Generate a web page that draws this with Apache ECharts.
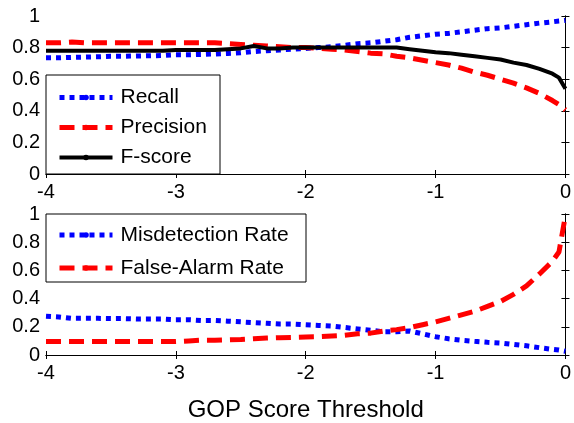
<!DOCTYPE html>
<html>
<head>
<meta charset="utf-8">
<script src="https://cdn.jsdelivr.net/npm/echarts@6/dist/echarts.min.js"></script>
<style>
  html, body { margin: 0; padding: 0; background: #fff; }
  #chart { width: 574px; height: 423px; }
</style>
</head>
<body>
<div id="chart"></div>
<script>
// GOP score thresholds (x values shared by every curve)
const thresholds = [-4.0, -3.9, -3.8, -3.7, -3.6, -3.5, -3.4, -3.3, -3.2, -3.1,
                    -3.0, -2.9, -2.8, -2.7, -2.6, -2.5, -2.4, -2.3, -2.2, -2.1,
                    -2.0, -1.9, -1.8, -1.7, -1.6, -1.5, -1.4, -1.3, -1.2, -1.1,
                    -1.0, -0.9, -0.8, -0.7, -0.6, -0.5, -0.4, -0.3, -0.2, -0.1,
                    -0.05, 0];

// Upper panel
const recall = [0.735, 0.735, 0.738, 0.74, 0.742, 0.745, 0.745, 0.747, 0.748, 0.75,
                0.755, 0.755, 0.757, 0.76, 0.763, 0.767, 0.775, 0.78, 0.785, 0.79,
                0.795, 0.80, 0.805, 0.815, 0.825, 0.83, 0.84, 0.85, 0.865, 0.875,
                0.885, 0.89, 0.90, 0.91, 0.92, 0.925, 0.935, 0.945, 0.955, 0.963,
                0.968, 0.972];
const precision = [0.83, 0.83, 0.835, 0.83, 0.83, 0.83, 0.83, 0.83, 0.83, 0.83,
                   0.83, 0.83, 0.83, 0.83, 0.825, 0.82, 0.815, 0.81, 0.805, 0.80,
                   0.80, 0.795, 0.79, 0.785, 0.775, 0.765, 0.76, 0.745, 0.735, 0.72,
                   0.705, 0.69, 0.67, 0.645, 0.625, 0.60, 0.575, 0.545, 0.51, 0.465,
                   0.44, 0.405];
const fscore = [0.78, 0.78, 0.78, 0.78, 0.78, 0.78, 0.78, 0.78, 0.78, 0.78,
                0.785, 0.785, 0.785, 0.785, 0.79, 0.795, 0.81, 0.795, 0.795, 0.80,
                0.80, 0.80, 0.80, 0.80, 0.80, 0.80, 0.80, 0.80, 0.79, 0.78,
                0.77, 0.765, 0.755, 0.745, 0.735, 0.725, 0.705, 0.69, 0.665, 0.635,
                0.61, 0.54];

// Lower panel
const misdetection = [0.275, 0.27, 0.26, 0.26, 0.26, 0.258, 0.258, 0.255, 0.255, 0.255,
                      0.25, 0.25, 0.245, 0.245, 0.24, 0.235, 0.23, 0.225, 0.22, 0.22,
                      0.215, 0.21, 0.205, 0.195, 0.185, 0.175, 0.165, 0.165, 0.17, 0.15,
                      0.13, 0.115, 0.105, 0.097, 0.09, 0.085, 0.075, 0.065, 0.052, 0.04,
                      0.035, 0.027];
const falseAlarm = [0.095, 0.095, 0.095, 0.095, 0.095, 0.095, 0.095, 0.095, 0.095, 0.095,
                    0.095, 0.10, 0.105, 0.105, 0.107, 0.11, 0.115, 0.12, 0.123, 0.125,
                    0.128, 0.13, 0.135, 0.14, 0.15, 0.155, 0.17, 0.18, 0.195, 0.215,
                    0.235, 0.26, 0.285, 0.31, 0.345, 0.38, 0.43, 0.49, 0.575, 0.665,
                    0.73, 0.99];

const xTicks = [-4, -3, -2, -1, 0];
const yTicks = [0, 0.2, 0.4, 0.6, 0.8, 1];

const FONT = '"Liberation Sans", Arial, Helvetica, sans-serif';
const pairs = (ys) => thresholds.map((x, i) => [x, ys[i]]);

const grids = [
  { left: 46, right: 6, top: 16, height: 158 },
  { left: 46, right: 6, top: 214, height: 157 }
];

function xAxes(gridIndex, withName) {
  const base = {
    type: 'value', gridIndex: gridIndex,
    min: xTicks[0], max: xTicks[xTicks.length - 1], interval: 1,
    axisLine: { show: true, lineStyle: { color: '#000', width: 1 } },
    axisTick: { show: true, inside: true, length: 4, lineStyle: { color: '#000' } },
    splitLine: { show: false }
  };
  const bottom = Object.assign({}, base, {
    position: 'bottom',
    axisLabel: { color: '#000', fontSize: 20, fontFamily: FONT, margin: 8 }
  });
  if (withName) {
    Object.assign(bottom, {
      name: 'GOP Score Threshold', nameLocation: 'middle', nameGap: 43,
      nameTextStyle: { color: '#000', fontSize: 24, fontFamily: FONT }
    });
  }
  const top = Object.assign({}, base, { position: 'top', axisLabel: { show: false } });
  return [bottom, top];
}

function yAxes(gridIndex) {
  const base = {
    type: 'value', gridIndex: gridIndex,
    min: yTicks[0], max: yTicks[yTicks.length - 1], interval: 0.2,
    axisLine: { show: true, lineStyle: { color: '#000', width: 1 } },
    axisTick: { show: true, inside: true, length: 4, lineStyle: { color: '#000' } },
    splitLine: { show: false }
  };
  return [
    Object.assign({}, base, {
      position: 'left',
      axisLabel: { color: '#000', fontSize: 20, fontFamily: FONT, margin: 6 }
    }),
    Object.assign({}, base, { position: 'right', axisLabel: { show: false } })
  ];
}

function lineSeries(name, ys, color, type, width, xi, yi) {
  return {
    name: name, type: 'line', data: pairs(ys),
    xAxisIndex: xi, yAxisIndex: yi,
    showSymbol: false, symbol: 'circle', symbolSize: 0,
    animation: false,
    lineStyle: { color: color, width: width, type: type, cap: 'butt' },
    itemStyle: { color: color }
  };
}

const chart = echarts.init(document.getElementById('chart'), null, { renderer: 'canvas' });
chart.setOption({
  animation: false,
  backgroundColor: '#fff',
  grid: grids,
  xAxis: [...xAxes(0, false), ...xAxes(1, true)],
  yAxis: [...yAxes(0), ...yAxes(1)],
  legend: [
    {
      data: [
        { name: 'Recall', lineStyle: { width: 5, type: [5, 5] } },
        { name: 'Precision', lineStyle: { width: 5, type: [15, 8] } },
        { name: 'F-score', lineStyle: { width: 4, type: 'solid' } }
      ],
      orient: 'vertical', left: 57, top: 82.5, padding: 0,
      itemWidth: 53, itemHeight: 7, itemGap: 0,
      selectedMode: false,
      textStyle: { color: '#000', fontSize: 21, fontFamily: FONT, lineHeight: 30, padding: [0, 0, 0, 3] }
    },
    {
      data: [
        { name: 'Misdetection Rate', lineStyle: { width: 5, type: [5, 5] } },
        { name: 'False-Alarm Rate', lineStyle: { width: 5, type: [15, 8] } }
      ],
      orient: 'vertical', left: 57, top: 218.5, padding: 0,
      itemWidth: 53, itemHeight: 7, itemGap: 0,
      selectedMode: false,
      textStyle: { color: '#000', fontSize: 21, fontFamily: FONT, lineHeight: 33, padding: [0, 0, 0, 3] }
    }
  ],
  graphic: [
    { type: 'rect', z: 3, shape: { x: 46, y: 75, width: 174, height: 99 },
      style: { fill: '#fff', stroke: '#000', lineWidth: 1 } },
    { type: 'rect', z: 3, shape: { x: 46, y: 214, width: 260, height: 68 },
      style: { fill: '#fff', stroke: '#000', lineWidth: 1 } }
  ],
  series: [
    lineSeries('Recall', recall, '#0000ff', [5, 5], 5, 0, 0),
    lineSeries('Precision', precision, '#ff0000', [15, 8], 5, 0, 0),
    lineSeries('F-score', fscore, '#000000', 'solid', 4, 0, 0),
    lineSeries('Misdetection Rate', misdetection, '#0000ff', [5, 5], 5, 2, 2),
    lineSeries('False-Alarm Rate', falseAlarm, '#ff0000', [15, 8], 5, 2, 2)
  ]
});
</script>
</body>
</html>
